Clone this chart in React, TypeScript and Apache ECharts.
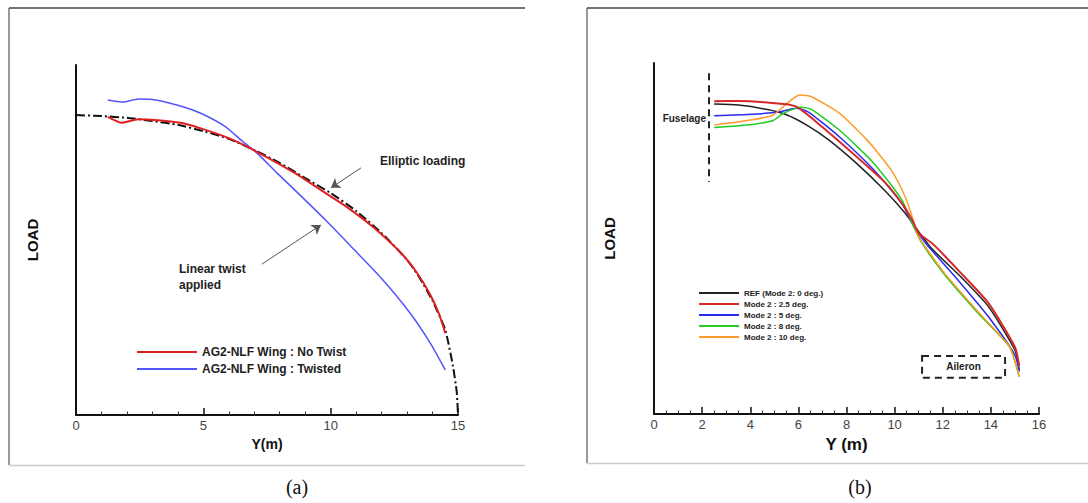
import React, { useEffect, useRef } from "react";
import * as echarts from "echarts";

// ---------- Panel (a) data ----------
const ellipticX = [0, 1, 2, 3, 4, 5, 6, 7, 8, 9, 10, 11, 12, 13, 13.5, 14, 14.5, 14.8, 14.95, 15];
const ellipticY = [0.857, 0.854, 0.849, 0.84, 0.829, 0.811, 0.789, 0.757, 0.72, 0.677, 0.634, 0.583, 0.52, 0.443, 0.391, 0.326, 0.243, 0.14, 0.066, 0];

const noTwistX = [1.25, 1.8, 2.45, 3.1, 4.1, 4.9, 6.0, 7.1, 8.6, 9.8, 10.6, 11.7, 12.8, 13.4, 13.9, 14.25, 14.5];
const noTwistY = [0.852, 0.835, 0.845, 0.843, 0.835, 0.819, 0.791, 0.752, 0.691, 0.634, 0.596, 0.535, 0.46, 0.405, 0.345, 0.29, 0.234];

const twistedX = [1.25, 1.84, 2.45, 2.93, 4.1, 4.9, 5.86, 6.55, 7.1, 7.9, 8.86, 9.8, 10.9, 12, 13.1, 13.9, 14.5];
const twistedY = [0.9, 0.894, 0.903, 0.902, 0.883, 0.862, 0.824, 0.781, 0.749, 0.691, 0.624, 0.557, 0.474, 0.39, 0.293, 0.207, 0.129];

const namesA = ["AG2-NLF Wing : No Twist", "AG2-NLF Wing : Twisted"];
const ticksA = { min: 0, max: 15, interval: 5 };

// annotation arrows (from, to) in data coords of panel (a)
const arrowElliptic = [[11.19, 0.706], [10.01, 0.649]];
const arrowTwist = [[7.3, 0.431], [9.62, 0.543]];

// ---------- Panel (b) data ----------
const refX = [2.5, 3.5, 4.66, 5.53, 6.4, 7.26, 8.42, 9.57, 10.44, 10.95, 11.6, 12.75, 13.9, 15.0, 15.18];
const refY = [0.883, 0.88, 0.868, 0.852, 0.821, 0.781, 0.714, 0.638, 0.572, 0.524, 0.467, 0.391, 0.306, 0.182, 0.125];

const m25X = [2.5, 3.5, 5.39, 5.96, 6.97, 8.42, 9.57, 10.3, 10.73, 11.0, 11.6, 12.75, 13.9, 15.0, 15.18];
const m25Y = [0.891, 0.892, 0.883, 0.874, 0.819, 0.733, 0.662, 0.6, 0.553, 0.515, 0.484, 0.402, 0.316, 0.191, 0.137];

const m5X = [2.5, 4.09, 5.24, 5.89, 6.4, 7.7, 9.14, 10.3, 10.8, 11.3, 12.75, 13.9, 15.0, 15.18];
const m5Y = [0.85, 0.854, 0.861, 0.871, 0.861, 0.79, 0.695, 0.6, 0.534, 0.486, 0.372, 0.277, 0.168, 0.121];

const m8X = [2.5, 4.09, 4.95, 5.39, 6.1, 6.54, 7.7, 9.14, 10.3, 10.73, 11.1, 12.03, 13.47, 14.77, 15.18];
const m8Y = [0.816, 0.825, 0.836, 0.857, 0.874, 0.868, 0.809, 0.714, 0.61, 0.543, 0.491, 0.401, 0.287, 0.192, 0.106];

const m10X = [2.5, 4.09, 4.95, 5.53, 6.04, 6.54, 7.7, 8.85, 9.86, 10.44, 10.73, 11.0, 12.03, 13.47, 14.77, 15.18];
const m10Y = [0.823, 0.838, 0.852, 0.885, 0.909, 0.904, 0.857, 0.781, 0.695, 0.619, 0.562, 0.505, 0.405, 0.291, 0.192, 0.106];

const namesB = ["REF (Mode 2: 0 deg.)", "Mode 2 : 2.5 deg.", "Mode 2 : 5 deg.", "Mode 2 : 8 deg.", "Mode 2 : 10 deg."];
const ticksB = { min: 0, max: 16, interval: 2 };

const fuselageX = 2.27;
const fuselageY = [0.971, 0.661];
const aileronX = [11.14, 14.59];
const aileronY = [0.103, 0.165];

const zip = (xs: number[], ys: number[]) => xs.map((x, i) => [x, ys[i]]);

const FONT = "Liberation Sans, Arial, sans-serif";

export default function App() {
  const ref = useRef<HTMLDivElement>(null);
  useEffect(() => {
    if (!ref.current) return;
    const chart = echarts.init(ref.current, undefined, { renderer: "svg" });

    const xAxisCommon = (gi: number, t: { min: number; max: number; interval: number }, minorSplit: number, name: string, nameSize: number) => ({
      type: "value",
      gridIndex: gi,
      position: "bottom",
      min: t.min,
      max: t.max,
      interval: t.interval,
      name,
      nameLocation: "middle",
      nameGap: 17,
      nameTextStyle: { fontFamily: FONT, fontWeight: "bold", fontSize: nameSize, color: "#111" },
      axisLine: { show: true, onZero: false, lineStyle: { color: "#111", width: 2 } },
      axisTick: { show: true, inside: true, length: 7, lineStyle: { color: "#111", width: 1.5 } },
      minorTick: { show: true, splitNumber: minorSplit, length: 3.5, lineStyle: { color: "#333", width: 1 } },
      axisLabel: { fontFamily: FONT, fontSize: 13, color: "#444", margin: 4 },
      splitLine: { show: false },
    });
    const yAxisCommon = (gi: number, gap: number) => ({
      type: "value",
      gridIndex: gi,
      position: "left",
      min: 0,
      max: 1,
      name: "LOAD",
      nameLocation: "middle",
      nameRotate: 90,
      nameGap: gap,
      nameTextStyle: { fontFamily: FONT, fontWeight: "bold", fontSize: 15, color: "#111" },
      axisLine: { show: true, onZero: false, lineStyle: { color: "#111", width: 2 } },
      axisTick: { show: false },
      axisLabel: { show: false },
      splitLine: { show: false },
    });

    const lineSeries = (name: string, data: number[][], color: string, width: number, idx: number, extra: any = {}) => ({
      type: "line",
      name,
      data,
      xAxisIndex: idx,
      yAxisIndex: idx,
      showSymbol: false,
      symbol: "none",
      smooth: 0.2,
      lineStyle: { color, width },
      itemStyle: { color },
      ...extra,
    });

    const option: any = {
      animation: false,
      grid: [
        { left: 76, top: 65, width: 382, height: 350 },
        { left: 654, top: 63, width: 385, height: 351 },
      ],
      xAxis: [xAxisCommon(0, ticksA, 5, "Y(m)", 14), xAxisCommon(1, ticksB, 4, "Y (m)", 17)],
      yAxis: [yAxisCommon(0, 36), yAxisCommon(1, 37)],
      legend: [
        {
          data: namesA,
          orient: "vertical",
          left: 132,
          top: 340,
          icon: "rect",
          itemWidth: 60,
          itemHeight: 2,
          itemGap: 3,
          textStyle: { fontFamily: FONT, fontWeight: "bold", fontSize: 12, color: "#222", lineHeight: 14 },
          selectedMode: false,
        },
        {
          data: namesB,
          orient: "vertical",
          left: 694,
          top: 283,
          icon: "rect",
          itemWidth: 40,
          itemHeight: 2,
          itemGap: 1,
          textStyle: { fontFamily: FONT, fontWeight: "bold", fontSize: 8, color: "#222", lineHeight: 10 },
          selectedMode: false,
        },
      ],
      series: [
        lineSeries("Elliptic loading", zip(ellipticX, ellipticY), "#111", 2, 0, {
          lineStyle: { color: "#111", width: 2, type: [9, 3, 2, 3] },
          markLine: {
            silent: true,
            symbol: ["none", "arrow"],
            symbolSize: 9,
            label: { show: false },
            lineStyle: { type: "solid", color: "#555", width: 1 },
            data: [
              [{ coord: arrowElliptic[0] }, { coord: arrowElliptic[1] }],
              [{ coord: arrowTwist[0] }, { coord: arrowTwist[1] }],
            ],
          },
        }),
        lineSeries(namesA[1], zip(twistedX, twistedY), "#5555ff", 1.5, 0),
        lineSeries(namesA[0], zip(noTwistX, noTwistY), "#e02020", 2, 0),

        lineSeries(namesB[0], zip(refX, refY), "#222222", 1.5, 1, {
          markLine: {
            silent: true,
            symbol: ["none", "none"],
            label: { show: false },
            lineStyle: { type: [7, 5], color: "#222", width: 2 },
            data: [[{ coord: [fuselageX, fuselageY[0]] }, { coord: [fuselageX, fuselageY[1]] }]],
          },
        }),
        lineSeries(namesB[2], zip(m5X, m5Y), "#2a2af0", 1.5, 1),
        lineSeries(namesB[3], zip(m8X, m8Y), "#22cc22", 1.5, 1),
        lineSeries(namesB[4], zip(m10X, m10Y), "#ff9a2a", 1.5, 1),
        lineSeries(namesB[1], zip(m25X, m25Y), "#d62828", 2, 1, {
          markArea: {
            silent: true,
            itemStyle: { color: "rgba(0,0,0,0)", borderColor: "#222", borderWidth: 2, borderType: [7, 5] },
            label: { show: true, position: "inside", fontFamily: FONT, fontWeight: "bold", fontSize: 10, color: "#222" },
            data: [[{ name: "Aileron", coord: [aileronX[0], aileronY[1]] }, { coord: [aileronX[1], aileronY[0]] }]],
          },
        }),
      ],
      graphic: [
        // panel frames
        { type: "line", shape: { x1: 9, y1: 8, x2: 9, y2: 465 }, style: { stroke: "#777", lineWidth: 1.5 } },
        { type: "line", shape: { x1: 9, y1: 8, x2: 525, y2: 8 }, style: { stroke: "#444", lineWidth: 1.5 } },
        { type: "line", shape: { x1: 9, y1: 465.5, x2: 525, y2: 465.5 }, style: { stroke: "#ccc", lineWidth: 1.5 } },
        { type: "line", shape: { x1: 587, y1: 8, x2: 587, y2: 463 }, style: { stroke: "#777", lineWidth: 1.5 } },
        { type: "line", shape: { x1: 587, y1: 8, x2: 1088, y2: 8 }, style: { stroke: "#444", lineWidth: 1.5 } },
        { type: "line", shape: { x1: 587, y1: 463.5, x2: 1088, y2: 463.5 }, style: { stroke: "#ccc", lineWidth: 1.5 } },
        // annotations (a)
        { type: "text", x: 380, y: 161, style: { text: "Elliptic loading", font: `bold 12px ${FONT}`, fill: "#222", verticalAlign: "middle" } },
        { type: "text", x: 179, y: 269, style: { text: "Linear twist", font: `bold 12px ${FONT}`, fill: "#222", verticalAlign: "middle" } },
        { type: "text", x: 179, y: 285, style: { text: "applied", font: `bold 12px ${FONT}`, fill: "#222", verticalAlign: "middle" } },
        // annotation (b)
        { type: "text", x: 706, y: 118, style: { text: "Fuselage", font: `bold 10px ${FONT}`, fill: "#222", align: "right", verticalAlign: "middle" } },
        // captions
        { type: "text", x: 297, y: 487, style: { text: "(a)", font: `20px "Liberation Serif", serif`, fill: "#111", align: "center", verticalAlign: "middle" } },
        { type: "text", x: 860, y: 487, style: { text: "(b)", font: `20px "Liberation Serif", serif`, fill: "#111", align: "center", verticalAlign: "middle" } },
      ],
    };
    chart.setOption(option);
    return () => chart.dispose();
  }, []);

  return (
    <div
      ref={ref}
      style={{ position: "fixed", left: 0, top: 0, width: 1088, height: 503, background: "#fff" }}
    />
  );
}
